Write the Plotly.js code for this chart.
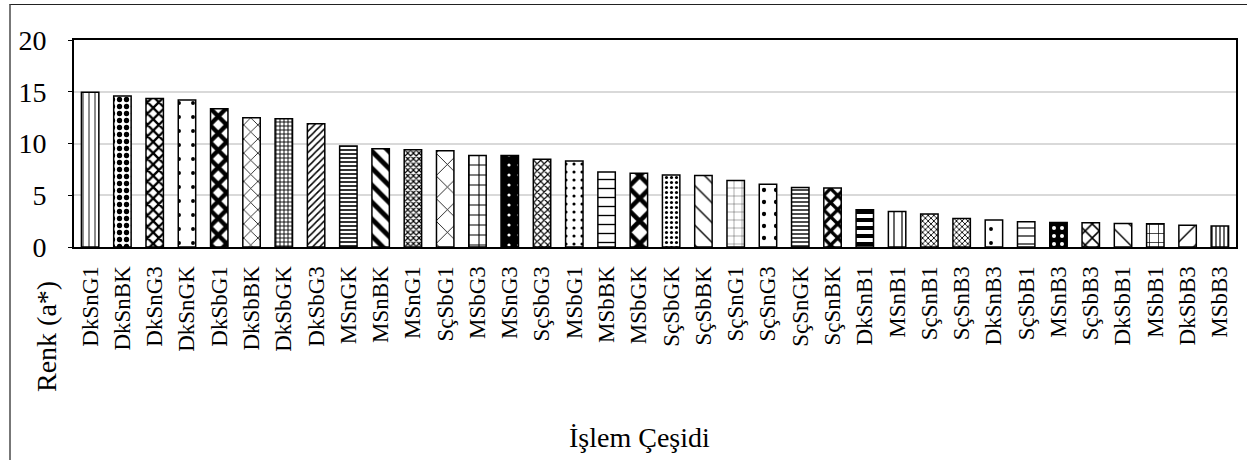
<!DOCTYPE html>
<html>
<head>
<meta charset="utf-8">
<script src="https://cdn.plot.ly/plotly-3.0.1.min.js"></script>
<style>
html,body{margin:0;padding:0;background:#fff;font-family:'Liberation Serif', serif;}
#wrap{position:relative;width:1247px;height:460px;}
#chart{width:1247px;height:460px;}
#frame{position:absolute;left:9px;top:4px;width:1236px;height:470px;border-left:2px solid #777;border-top:1px solid #222;border-right:2px solid #d0d0d0;pointer-events:none;}
</style>
</head>
<body>
<div id="wrap"><div id="chart"></div><div id="frame"></div></div>
<script>
// Data
const categories = ["DkSnG1","DkSnBK","DkSnG3","DkSnGK","DkSbG1","DkSbBK","DkSbGK","DkSbG3","MSnGK","MSnBK","MSnG1","SçSbG1","MSbG3","MSnG3","SçSbG3","MSbG1","MSbBK","MSbGK","SçSbGK","SçSbBK","SçSnG1","SçSnG3","SçSnGK","SçSnBK","DkSnB1","MSnB1","SçSnB1","SçSnB3","DkSnB3","SçSbB1","MSnB3","SçSbB3","DkSbB1","MSbB1","DkSbB3","MSbB3"];
const values = [14.95,14.6,14.35,14.2,13.35,12.5,12.4,11.9,9.75,9.5,9.4,9.3,8.85,8.83,8.47,8.3,7.25,7.12,6.96,6.9,6.42,6.07,5.75,5.7,3.6,3.43,3.18,2.76,2.6,2.44,2.37,2.34,2.28,2.25,2.09,2.02];
const yTicks = [0,5,10,15,20];

// Styles (fill patterns per bar)
const patShape =    ["|",".","x",".","x","x","+","/","-","\\","x","x","+",".","x",".","-","x",".","\\","+",".","-","x","-","|","x","x",".","-",".","x","\\","+","/","|"];
const patSize =     [6, 7,  8,  14, 12, 10, 4,  5,  4,  12,  4,  16, 10, 10, 5,  8,  9,  16, 5,  14,  8,  12, 4,  10, 8,  8,  4,  4,  14, 8,  8,  10, 14,  9,  14, 4];
const patSolid =    [0.15,0.45,0.5,0.06,0.6,0.15,0.4,0.3,0.4,0.4,0.5,0.1,0.2,0.08,0.4,0.12,0.15,0.5,0.3,0.1,0.08,0.1,0.35,0.55,0.5,0.15,0.4,0.4,0.06,0.15,0.2,0.3,0.1,0.15,0.1,0.3];
const darkBg = [13,30];
const patFg = categories.map((c,i)=>darkBg.includes(i)?"#ffffff":"#000000");
const patBg = categories.map((c,i)=>darkBg.includes(i)?"#000000":"#ffffff");

const FAM = "Liberation Serif";

const trace = {
  type: "bar",
  x: categories,
  y: values,
  marker: {
    color: "#ffffff",
    line: {color: "#000000", width: 1.5},
    pattern: {shape: patShape, size: patSize, solidity: patSolid, fgcolor: patFg, bgcolor: patBg, fillmode: "replace"}
  }
};

const layout = {
  width: 1247, height: 460,
  margin: {l: 74, r: 11, t: 40, b: 213},
  paper_bgcolor: "#ffffff", plot_bgcolor: "#ffffff",
  bargap: 0.46,
  showlegend: false,
  font: {family: FAM, color: "#000000"},
  xaxis: {
    type: "category",
    tickangle: -90,
    tickfont: {family: FAM, size: 23, color: "#000000"},
    showline: true, linecolor: "#000000", linewidth: 2, mirror: true,
    ticks: "", ticklabelstandoff: 8,
    showgrid: false
  },
  yaxis: {
    range: [0, 20],
    tickvals: yTicks,
    ticktext: yTicks.map(String),
    tickfont: {family: FAM, size: 28, color: "#000000"},
    showline: true, linecolor: "#000000", linewidth: 2, mirror: true,
    ticks: "outside", ticklen: 4, tickcolor: "#000000",
    ticklabelstandoff: 16,
    showgrid: true, gridcolor: "#d9d9d9", gridwidth: 2,
    zeroline: false
  },
  annotations: [
    {text: "Renk (a*)", xref: "paper", yref: "paper", x: (46-74)/1162, y: (247-337)/207, textangle: -90,
     showarrow: false, xanchor: "center", yanchor: "middle", font: {family: FAM, size: 28, color: "#000000"}},
    {text: "İşlem Çeşidi", xref: "paper", yref: "paper", x: (639-74)/1162, y: (247-437)/207,
     showarrow: false, xanchor: "center", yanchor: "middle", font: {family: FAM, size: 28, color: "#000000"}}
  ]
};

function draw(){ Plotly.newPlot("chart", [trace], layout, {displayModeBar: false, staticPlot: true}); }
if (document.fonts && document.fonts.load) {
  Promise.all([document.fonts.load("28px 'Liberation Serif'"), document.fonts.load("23px 'Liberation Serif'")])
    .then(draw, draw);
} else { draw(); }
</script>
</body>
</html>
